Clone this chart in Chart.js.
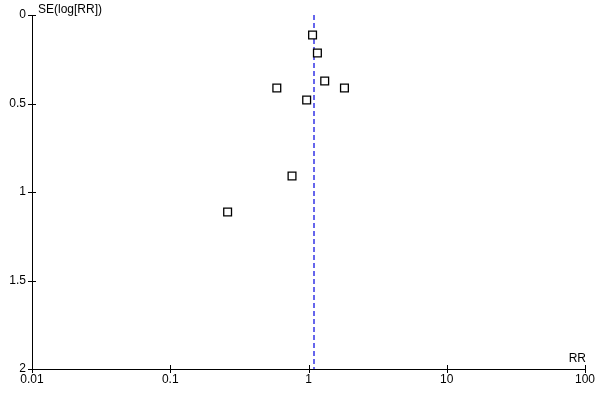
<!DOCTYPE html>
<html>
<head>
<meta charset="utf-8">
<script src="https://cdn.jsdelivr.net/npm/chart.js@4"></script>
<style>
  html, body { margin: 0; padding: 0; background: #fff; }
  #wrap { width: 600px; height: 400px; }
</style>
</head>
<body>
<div id="wrap"><canvas id="funnel"></canvas></div>
<script>
// study estimates: risk ratio and its standard error
const rr = [1.07, 1.16, 1.31, 1.82, 0.59, 0.97, 0.76, 0.26];
const seLogRR = [0.113, 0.215, 0.373, 0.412, 0.412, 0.48, 0.91, 1.113];
const pooledRR = 1.096;
const xTicks = [0.01, 0.1, 1, 10, 100];
const yTicks = [0, 0.5, 1, 1.5, 2];

const FONT = { family: '"Liberation Sans", Arial, sans-serif', size: 12 };

// ticks crossing the axis line + axis titles
const axisDeco = {
  id: 'axisDeco',
  afterDraw(chart) {
    const { ctx, chartArea: a, scales: { x, y } } = chart;
    ctx.save();
    ctx.strokeStyle = '#000';
    ctx.lineWidth = 1;
    ctx.beginPath();
    xTicks.forEach(v => {
      const px = Math.round(x.getPixelForValue(v)) + 0.5;
      ctx.moveTo(px, a.bottom - 4);
      ctx.lineTo(px, a.bottom + 4);
    });
    yTicks.forEach(v => {
      const py = Math.round(y.getPixelForValue(v)) + 0.5;
      ctx.moveTo(a.left - 4, py);
      ctx.lineTo(a.left + 4, py);
    });
    ctx.stroke();
    ctx.fillStyle = '#000';
    ctx.font = FONT.size + 'px ' + FONT.family;
    ctx.textAlign = 'left';
    ctx.textBaseline = 'middle';
    ctx.fillText('SE(log[RR])', a.left + 6, a.top - 5);
    ctx.textAlign = 'right';
    ctx.fillText('RR', a.right + 1, a.bottom - 10);
    ctx.restore();
  }
};

new Chart(document.getElementById('funnel'), {
  type: 'scatter',
  data: {
    datasets: [
      {
        label: 'studies',
        data: rr.map((v, i) => ({ x: v, y: seLogRR[i] })),
        pointStyle: 'rect',
        pointRadius: 5.5,
        pointBorderColor: '#000',
        pointBackgroundColor: '#fff',
        pointBorderWidth: 1.3
      },
      {
        label: 'pooled',
        type: 'line',
        data: [{ x: pooledRR, y: 0 }, { x: pooledRR, y: 2 }],
        borderColor: '#0000e0',
        borderWidth: 1.2,
        borderDash: [5, 3],
        pointRadius: 0
      }
    ]
  },
  options: {
    responsive: true,
    maintainAspectRatio: false,
    animation: false,
    layout: { padding: { top: 15, right: 15, left: 0, bottom: 0 } },
    plugins: { legend: { display: false }, tooltip: { enabled: false } },
    scales: {
      x: {
        type: 'logarithmic',
        min: 0.01,
        max: 100,
        afterBuildTicks: s => { s.ticks = xTicks.map(v => ({ value: v })); },
        afterFit: s => { s.height = 31; },
        ticks: {
          color: '#000',
          font: FONT,
          padding: 3,
          maxRotation: 0,
          autoSkip: false,
          callback: v => String(v)
        },
        grid: { drawOnChartArea: false, drawTicks: false },
        border: { color: '#000', width: 1 }
      },
      y: {
        reverse: true,
        min: 0,
        max: 2,
        afterBuildTicks: s => { s.ticks = yTicks.map(v => ({ value: v })); },
        afterFit: s => { s.width = 32; },
        ticks: { color: '#000', font: FONT, padding: 6, callback: v => String(v) },
        grid: { drawOnChartArea: false, drawTicks: false },
        border: { color: '#000', width: 1 }
      }
    }
  },
  plugins: [axisDeco]
});
</script>
</body>
</html>
